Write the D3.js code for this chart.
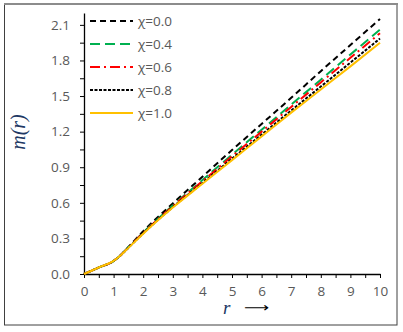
<!DOCTYPE html>
<html>
<head>
<meta charset="utf-8">
<script src="https://cdn.jsdelivr.net/npm/d3@7"></script>
<style>
  body { margin: 0; background: #fff; }
  .tick text { font-family: "Open Sans", sans-serif; font-size: 13.5px; fill: #595959; }
</style>
</head>
<body>
<div id="chart"></div>
<script>
// r values along the x axis
var rVals = [0, 0.5, 1, 1.25, 1.5, 2, 3, 4, 5, 6, 7, 8, 9, 10];

// m(r) for each chi
var chi00 = [0, 0.055, 0.11, 0.163, 0.228, 0.36, 0.595, 0.82, 1.045, 1.265, 1.485, 1.71, 1.93, 2.15];
var chi04 = [0, 0.055, 0.11, 0.162, 0.226, 0.35, 0.578, 0.792, 1.006, 1.216, 1.428, 1.638, 1.85, 2.06];
var chi06 = [0, 0.055, 0.11, 0.161, 0.224, 0.347, 0.572, 0.782, 0.992, 1.2, 1.408, 1.615, 1.822, 2.03];
var chi08 = [0, 0.055, 0.11, 0.16, 0.222, 0.343, 0.564, 0.767, 0.972, 1.175, 1.378, 1.58, 1.782, 1.985];
var chi10 = [0, 0.055, 0.11, 0.16, 0.22, 0.34, 0.56, 0.76, 0.96, 1.16, 1.36, 1.555, 1.75, 1.95];

var seriesNames = ["\u03c7=0.0", "\u03c7=0.4", "\u03c7=0.6", "\u03c7=0.8", "\u03c7=1.0"];
var seriesVals = [chi00, chi04, chi06, chi08, chi10];
var seriesColors = ["#000000", "#00b050", "#ff0000", "#000000", "#ffc000"];
var seriesDash = ["6,4", "10,5", "10,4,2,4", "3,1.5", null];

var yTicks = [0, 0.3, 0.6, 0.9, 1.2, 1.5, 1.8, 2.1];
var xTicks = [0, 1, 2, 3, 4, 5, 6, 7, 8, 9, 10];

var W = 403, H = 332;
var svg = d3.select("#chart").append("svg")
    .attr("width", W)
    .attr("height", H);

// outer frame
svg.append("rect")
    .attr("x", 4.5).attr("y", 4.5)
    .attr("width", 392.5).attr("height", 320.5)
    .attr("fill", "none")
    .attr("stroke", "#404040")
    .attr("stroke-width", 1);
svg.append("line")
    .attr("x1", 4).attr("x2", 398)
    .attr("y1", 4).attr("y2", 4)
    .attr("stroke", "#8c8c8c")
    .attr("stroke-width", 2);

var x = d3.scaleLinear().domain([0, 10]).range([84, 380]);
var y = d3.scaleLinear().domain([0, 2.2]).range([274, 13]);

// minor ticks
var xMinor = d3.range(0.5, 10, 1);
var yMinor = d3.range(0.15, 2.2, 0.3);

svg.append("g")
    .attr("transform", "translate(0,274)")
    .call(d3.axisBottom(x).tickValues(xMinor).tickSize(4).tickFormat(""))
    .call(function(g) { g.select(".domain").remove(); })
    .selectAll("line").attr("stroke", "#000");

svg.append("g")
    .attr("transform", "translate(84,0)")
    .call(d3.axisLeft(y).tickValues(yMinor).tickSize(4).tickFormat(""))
    .call(function(g) { g.select(".domain").remove(); })
    .selectAll("line").attr("stroke", "#000");

var xAxis = svg.append("g")
    .attr("transform", "translate(0,274)")
    .call(d3.axisBottom(x).tickValues(xTicks).tickSize(4).tickSizeOuter(0).tickPadding(8).tickFormat(d3.format("d")));
xAxis.select(".domain").attr("stroke", "#000").attr("stroke-width", 1.3);
xAxis.selectAll("line").attr("stroke", "#000");

var yAxis = svg.append("g")
    .attr("transform", "translate(84,0)")
    .call(d3.axisLeft(y).tickValues(yTicks).tickSize(4).tickSizeOuter(0).tickPadding(10).tickFormat(d3.format(".1f")));
yAxis.select(".domain").attr("stroke", "#000").attr("stroke-width", 1.3);
yAxis.selectAll("line").attr("stroke", "#000");

// lines
var line = d3.line()
    .x(function(d, i) { return x(rVals[i]); })
    .y(function(d) { return y(d); })
    .curve(d3.curveMonotoneX);

seriesVals.forEach(function(vals, k) {
    svg.append("path")
        .datum(vals)
        .attr("d", line)
        .attr("fill", "none")
        .attr("stroke", seriesColors[k])
        .attr("stroke-width", 2)
        .attr("stroke-dasharray", seriesDash[k]);
});

// legend
var legend = svg.append("g");
seriesNames.forEach(function(name, k) {
    var ly = 21 + k * 23;
    legend.append("line")
        .attr("x1", 90).attr("x2", 133)
        .attr("y1", ly).attr("y2", ly)
        .attr("stroke", seriesColors[k])
        .attr("stroke-width", 2)
        .attr("stroke-dasharray", seriesDash[k]);
    legend.append("text")
        .attr("x", 138).attr("y", ly + 5)
        .attr("font-family", "'Open Sans', sans-serif")
        .attr("font-size", "13.5px")
        .attr("fill", "#595959")
        .text(name);
});

// axis titles
svg.append("text")
    .attr("transform", "translate(25,132) rotate(-90)")
    .attr("text-anchor", "middle")
    .attr("font-family", "'Liberation Serif', serif")
    .attr("font-style", "italic")
    .attr("font-size", "20px")
    .attr("fill", "#203864")
    .text("m(r)");

svg.append("text")
    .attr("x", 223).attr("y", 314)
    .attr("font-family", "'Liberation Serif', serif")
    .attr("font-style", "italic")
    .attr("font-size", "19px")
    .attr("fill", "#203864")
    .text("r");

// arrow after the r label, stretched sideways
svg.append("text")
    .attr("transform", "translate(244,312) scale(1.35,1)")
    .attr("font-family", "'DejaVu Sans', sans-serif")
    .attr("font-size", "13px")
    .attr("fill", "#000")
    .text("\u27f6");
</script>
</body>
</html>
